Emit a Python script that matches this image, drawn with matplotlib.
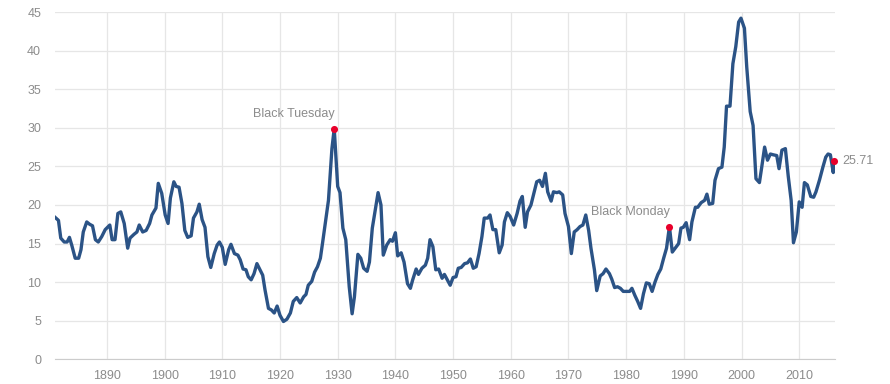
import matplotlib.pyplot as plt

plt.rcParams['font.family'] = ['Liberation Sans', 'DejaVu Sans']

# Shiller PE ratio
years = [1881.0, 1881.6, 1882.0, 1882.6, 1883.1, 1883.5, 1883.9, 1884.5, 1885.1, 1885.5,
         1885.9, 1886.5, 1887.0, 1887.5, 1888.0, 1888.5, 1889.1, 1889.7, 1890.5, 1890.9,
         1891.4, 1891.9, 1892.4, 1893.0, 1893.6, 1894.0, 1894.7, 1895.2, 1895.6, 1896.2,
         1896.8, 1897.4, 1897.8, 1898.5, 1898.9, 1899.5, 1900.1, 1900.6, 1901.0, 1901.6,
         1902.0, 1902.5, 1903.0, 1903.5, 1904.0, 1904.6, 1905.0, 1905.6, 1906.0, 1906.5,
         1907.0, 1907.5, 1908.0, 1908.6, 1909.1, 1909.5, 1910.0, 1910.5, 1911.1, 1911.5,
         1912.1, 1912.7, 1913.1, 1913.6, 1914.1, 1914.5, 1915.0, 1915.5, 1916.0, 1916.4,
         1917.0, 1917.4, 1918.0, 1918.5, 1919.0, 1919.5, 1920.0, 1920.6, 1921.2, 1921.8,
         1922.3, 1922.9, 1923.5, 1924.1, 1924.5, 1924.9, 1925.5, 1926.0, 1926.5, 1927.0,
         1927.4, 1928.0, 1928.4, 1929.0, 1929.4, 1930.0, 1930.4, 1930.9, 1931.4, 1932.0,
         1932.5, 1932.9, 1933.5, 1934.0, 1934.5, 1935.1, 1935.5, 1936.0, 1936.5, 1937.0,
         1937.5, 1937.9, 1938.5, 1939.1, 1939.5, 1940.0, 1940.4, 1941.0, 1941.5, 1942.1,
         1942.6, 1943.0, 1943.6, 1944.0, 1944.6, 1945.2, 1945.6, 1946.0, 1946.5, 1947.0,
         1947.5, 1948.1, 1948.5, 1949.0, 1949.5, 1950.0, 1950.5, 1950.9, 1951.4, 1952.0,
         1952.5, 1953.0, 1953.5, 1954.0, 1954.5, 1955.0, 1955.4, 1956.0, 1956.4, 1956.9,
         1957.4, 1958.0, 1958.5, 1958.9, 1959.4, 1959.9, 1960.5, 1961.1, 1961.6, 1962.0,
         1962.5, 1962.9, 1963.5, 1964.0, 1964.5, 1965.0, 1965.5, 1966.0, 1966.4, 1967.0,
         1967.4, 1968.0, 1968.4, 1969.0, 1969.4, 1970.0, 1970.5, 1971.0, 1971.5, 1972.0,
         1972.5, 1973.0, 1973.5, 1973.9, 1974.5, 1974.9, 1975.5, 1976.0, 1976.5, 1977.1,
         1977.5, 1978.0, 1978.5, 1979.0, 1979.5, 1980.6, 1981.0, 1981.5, 1982.0, 1982.5,
         1983.0, 1983.5, 1984.0, 1984.5, 1985.0, 1985.5, 1986.0, 1986.5, 1987.0, 1987.5,
         1988.0, 1988.5, 1989.1, 1989.5, 1989.9, 1990.4, 1991.0, 1991.4, 1992.0, 1992.4,
         1993.0, 1993.6, 1994.0, 1994.4, 1995.0, 1995.4, 1996.0, 1996.6, 1997.0, 1997.4,
         1998.0, 1998.5, 1999.0, 1999.5, 1999.9, 2000.5, 2000.9, 2001.5, 2002.0, 2002.5,
         2003.1, 2003.5, 2004.0, 2004.5, 2005.0, 2005.5, 2006.1, 2006.5, 2007.0, 2007.6,
         2008.1, 2008.6, 2009.0, 2009.5, 2010.0, 2010.5, 2010.9, 2011.4, 2012.0, 2012.5,
         2012.9, 2013.5, 2014.1, 2014.6, 2015.0, 2015.4, 2015.9, 2016.0]
cape = [18.4, 18.0, 15.7, 15.2, 15.2, 15.8, 14.8, 13.1, 13.1, 14.2,
        16.5, 17.8, 17.5, 17.3, 15.5, 15.2, 15.9, 16.8, 17.4, 15.5,
        15.5, 18.9, 19.1, 17.6, 14.4, 15.7, 16.2, 16.5, 17.4, 16.5,
        16.7, 17.6, 18.7, 19.6, 22.8, 21.5, 18.7, 17.6, 20.9, 23.0,
        22.4, 22.3, 20.2, 16.7, 15.8, 16.0, 18.3, 19.1, 20.1, 18.1,
        17.1, 13.3, 11.9, 13.7, 14.8, 15.2, 14.5, 12.3, 14.2, 14.9,
        13.7, 13.5, 12.9, 11.7, 11.6, 10.7, 10.3, 11.1, 12.4, 11.8,
        10.9, 9.0, 6.6, 6.4, 6.0, 6.9, 5.7, 4.9, 5.2, 6.0,
        7.5, 8.0, 7.3, 8.1, 8.4, 9.6, 10.1, 11.3, 12.0, 13.1,
        15.2, 18.5, 20.6, 27.3, 29.9, 22.4, 21.6, 17.0, 15.5, 9.4,
        5.9, 8.1, 13.6, 13.1, 11.8, 11.4, 12.6, 17.0, 19.3, 21.6,
        20.0, 13.5, 14.8, 15.5, 15.3, 16.4, 13.4, 13.8, 12.6, 9.8,
        9.2, 10.3, 11.7, 11.0, 11.8, 12.2, 13.1, 15.5, 14.6, 11.6,
        11.7, 10.5, 11.0, 10.3, 9.6, 10.6, 10.7, 11.8, 11.9, 12.4,
        12.5, 13.0, 11.8, 12.0, 13.7, 15.9, 18.3, 18.3, 18.7, 16.8,
        16.8, 13.8, 14.8, 17.8, 19.0, 18.5, 17.4, 18.9, 20.5, 21.1,
        17.1, 19.1, 20.0, 21.5, 23.0, 23.2, 22.4, 24.1, 21.7, 20.5,
        21.7, 21.6, 21.7, 21.3, 18.9, 17.2, 13.7, 16.5, 16.8, 17.2,
        17.4, 18.7, 16.7, 14.4, 11.6, 8.9, 10.8, 11.1, 11.7, 11.1,
        10.4, 9.3, 9.4, 9.2, 8.8, 8.8, 9.2, 8.3, 7.5, 6.6,
        8.5, 9.9, 9.8, 8.8, 10.0, 11.0, 11.7, 13.1, 14.4, 17.2,
        13.9, 14.4, 15.0, 17.0, 17.1, 17.7, 15.5, 17.8, 19.7, 19.7,
        20.3, 20.6, 21.4, 20.1, 20.2, 23.2, 24.7, 24.9, 27.5, 32.8,
        32.8, 38.3, 40.5, 43.7, 44.2, 42.9, 37.9, 32.1, 30.3, 23.4,
        22.9, 24.9, 27.5, 25.8, 26.6, 26.5, 26.4, 24.7, 27.1, 27.3,
        23.7, 20.6, 15.1, 16.5, 20.4, 19.7, 22.9, 22.6, 21.1, 21.0,
        21.7, 23.2, 24.9, 26.2, 26.6, 26.5, 24.2, 25.71]

events = ['Black Tuesday', 'Black Monday']
event_years = [1929.4, 1987.5]
event_values = [29.9, 17.2]

line_color = '#2b5386'
dot_color = '#e8002b'
text_color = '#8c8c8c'

fig = plt.figure(figsize=(8.9, 3.84), dpi=100)
ax = fig.add_axes([0.0618, 0.0643, 0.8764, 0.9044])

ax.plot(years, cape, color=line_color, lw=2.4, solid_joinstyle='round', zorder=3)

# annotated points
ax.scatter(event_years, event_values, s=26, color=dot_color, zorder=4, linewidths=0)
for name, x, y in zip(events, event_years, event_values):
    ax.annotate(name, (x, y), xytext=(0, 6), textcoords='offset points',
                ha='right', va='bottom', fontsize=9, color=text_color)

# last value
ax.scatter([years[-1]], [cape[-1]], s=26, color=dot_color, zorder=4, linewidths=0,
           clip_on=False)
ax.annotate('%.2f' % cape[-1], (years[-1], cape[-1]), xytext=(6, 0),
            textcoords='offset points', ha='left', va='center', fontsize=9,
            color=text_color, annotation_clip=False)

ax.set_xlim(1881, 2016.2)
ax.set_ylim(0, 45)
ax.set_xticks(range(1890, 2011, 10))
ax.set_yticks(range(0, 46, 5))
ax.grid(True, color='#e6e6e6', lw=0.9)
ax.set_axisbelow(True)
for side in ['left', 'right', 'top']:
    ax.spines[side].set_visible(False)
ax.spines['bottom'].set_color('#cccccc')
ax.tick_params(axis='both', length=0, labelsize=9, labelcolor='#8c8c8c')
ax.tick_params(axis='x', pad=8)
ax.tick_params(axis='y', pad=10)

fig.savefig('out.png', dpi=100)
